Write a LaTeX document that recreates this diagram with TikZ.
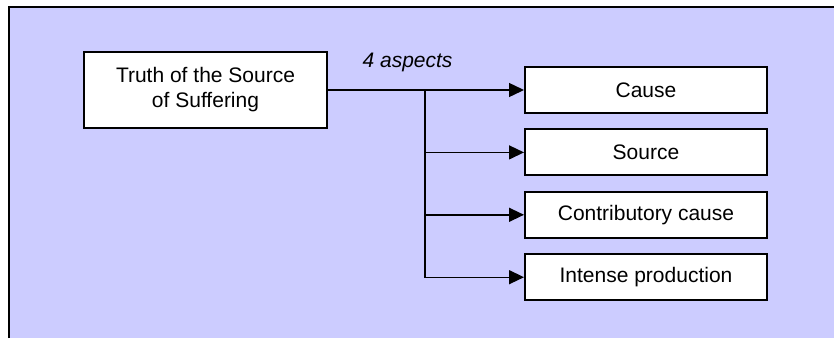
\documentclass[tikz,border=0pt]{standalone}
\usepackage{fontspec}
\setmainfont{Liberation Sans}
\usetikzlibrary{positioning, arrows.meta}
\definecolor{panelblue}{RGB}{204,204,255}

\begin{document}
\begin{tikzpicture}[x=0.5pt, y=-0.5pt, font=\fontsize{10.5}{12.5}\selectfont]
    % Block styles
    \tikzstyle{truthblock} = [rectangle, draw, fill=white, line width=1pt, align=center, minimum width=121.5pt, minimum height=38pt]
    \tikzstyle{aspectblock} = [rectangle, draw, fill=white, line width=1pt, minimum width=121pt, minimum height=23pt]
    \tikzstyle{branch} = [-{Triangle[length=7.5pt, width=7pt]}, line width=0.7pt]
    % Background panel
    \useasboundingbox (0,0) rectangle (834,338);
    \fill[panelblue] (9,7) rectangle (834,338);
    \draw[line width=1pt] (9,338) -- (9,7) -- (834,7);
    % Nodes
    \node[truthblock] (truth) at (205.5,90) {Truth of the Source\\of Suffering};
    \node[aspectblock, right=98pt of truth] (cause) {Cause};
    \node[aspectblock, below=7.2pt of cause] (source) {Source};
    \node[aspectblock, below=7.2pt of source] (contrib) {Contributory cause};
    \node[aspectblock, below=7.2pt of contrib] (intense) {Intense production};
    % Connections
    \draw[line width=1.2pt] (truth.east) -- node[pos=0.82, anchor=base, yshift=11.5pt]{\itshape 4 aspects} ++(48.5pt,0) coordinate (trunk);
    \draw[branch] (trunk) -- (cause);
    \draw[branch] (trunk) |- (source);
    \draw[branch] (trunk) |- (contrib);
    \draw[branch] (trunk) |- (intense);
\end{tikzpicture}
\end{document}
